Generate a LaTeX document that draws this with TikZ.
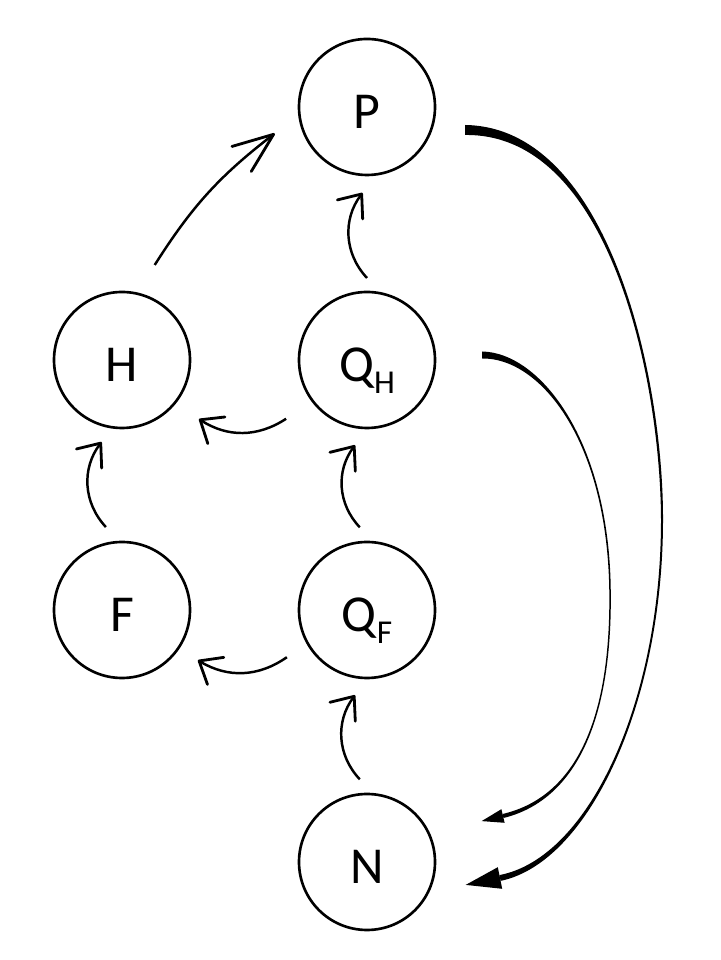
\documentclass[tikz,border=0pt]{standalone}
\usepackage{fontspec}
\setmainfont{Carlito}
\usepackage{tikz}
\usetikzlibrary{arrows.meta, calc}
\newcommand{\idx}[1]{\raisebox{-6.8pt}{\fontsize{19}{20}\selectfont #1}}
\tikzset{%
	every pool/.style={
		circle,
		draw,
		line width=1.5pt,
		inner sep=0pt,
		minimum size=2.72cm,
		font=\fontsize{29.5}{34}\selectfont,
		text height=0.88cm,
		text depth=0pt
	},
	flow/.style={
		line width=1.4pt,
		-{Straight Barb[length=11pt, width=18pt, line width=1.6pt, round]}
	},
	long flow/.style={
		flow,
		-{Straight Barb[length=23pt, width=18pt, line width=1.6pt, round]}
	},
}

\begin{document}
\begin{tikzpicture}
			\useasboundingbox (0,0) rectangle (14.4,19.2);
			% Draw the pools
			\node[every pool] (P) at (7.34,17.06) {P};
			\node[every pool] (H) at (2.44,12.0) {H};
			\node[every pool] (QH) at (7.34,12.0) {Q\idx{H}};
			\node[every pool] (F) at (2.44,7.0) {F};
			\node[every pool] (QF) at (7.34,7.0) {Q\idx{F}};
			\node[every pool] (N) at (7.34,1.96) {N};
			
			% Draw the thin flows
			\draw[long flow] ($(H)+(71:2.01)$) to[bend left=10] ($(P)+(196:1.92)$);
			\draw[flow] ($(QH)+(90:1.64)$) to[bend left=40] ($(P)+(267:1.72)$);
			\draw[flow] ($(QH)+(216:2.0)$) to[bend left=33] ($(H)+(322.5:1.94)$);
			\draw[flow] ($(F)+(101:1.69)$) to[bend left=40] ($(H)+(256:1.69)$);
			\draw[flow] ($(QF)+(210.5:1.86)$) to[bend left=33] ($(F)+(326.5:1.82)$);
			\draw[flow] ($(QF)+(95:1.66)$) to[bend left=40] ($(QH)+(262:1.72)$);
			\draw[flow] ($(N)+(95:1.66)$) to[bend left=40] ($(QF)+(262:1.72)$);
			
			% Draw the big flow from P to N
			\coordinate (P-out) at ($(P)+(1.96,-0.46)$);
			\coordinate (N-in) at ($(N)+(1.974,-0.458)$);
			\fill ($(P-out)+(0,0.1)$) .. controls (12.20,16.66) and (13.27,11.60) .. (13.26,8.80)
				.. controls (13.26,5.20) and (11.808,1.96) .. (10.012,1.582)
				-- (9.988,1.698) .. controls (11.792,2.04) and (13.22,5.20) .. (13.22,8.80)
				.. controls (13.21,11.60) and (12.20,16.54) .. ($(P-out)+(0,-0.1)$) -- cycle;
			\fill (N-in) -- (10.044,1.424) -- (9.956,1.856) -- cycle;
			
			% Draw the flow from QH to N
			\coordinate (QH-out) at ($(QH)+(2.30,0.10)$);
			\coordinate (N-top) at ($(N)+(2.292,0.818)$);
			\fill ($(QH-out)+(0,0.07)$) .. controls (10.80,12.15) and (12.18,10.40) .. (12.215,7.40)
				.. controls (12.255,4.60) and (11.407,3.17) .. (10.07,2.84)
				-- (10.05,2.92) .. controls (11.393,3.23) and (12.225,4.60) .. (12.185,7.40)
				.. controls (12.14,10.40) and (10.80,12.05) .. ($(QH-out)+(0,-0.07)$) -- cycle;
			\fill (N-top) -- (10.092,2.744) -- (10.028,3.016) -- cycle;
			
\end{tikzpicture}
\end{document}
